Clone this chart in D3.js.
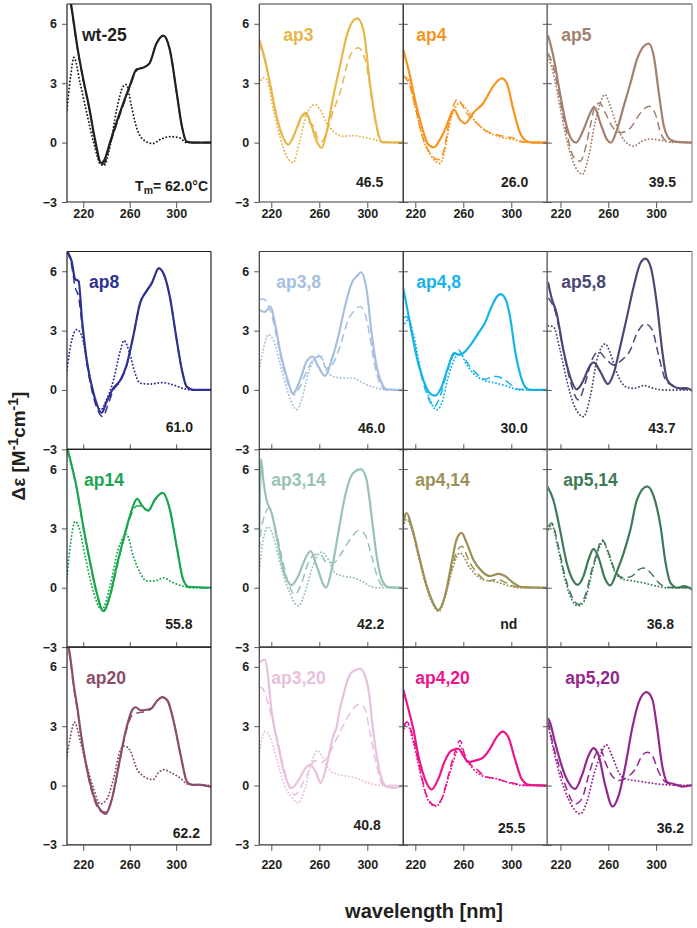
<!DOCTYPE html>
<html><head><meta charset="utf-8">
<script src="https://cdn.jsdelivr.net/npm/d3@7"></script>
<style>
body{margin:0;background:#fff}
svg{display:block}
text{font-family:"Liberation Sans",Arial,Helvetica,sans-serif;font-weight:bold}
</style>
</head><body>
<svg id="chart" width="697" height="928"></svg>
<script>
// ---------------- DATA ----------------
const wavelengthTicks = [220, 260, 300];
const deltaEpsTicks = [-3, 0, 3, 6];
const panelNames = ["wt-25","ap3","ap4","ap5","ap8","ap3,8","ap4,8","ap5,8","ap14","ap3,14","ap4,14","ap5,14","ap20","ap3,20","ap4,20","ap5,20"];
const panelColors = ["#231f20","#e8b54a","#f7941d","#a3806e","#2e3192","#a5bfdf","#16b3ea","#4a4876","#1aa64f","#98c3b0","#9d9055","#3e7a55","#8c4d6c","#e8c0dd","#ec138c","#93278f"];
const tmValues = ["62.0","46.5","26.0","39.5","61.0","46.0","30.0","43.7","55.8","42.2","nd","36.8","62.2","40.8","25.5","36.2"];

// spectra as [wavelength nm, Δε]
const wt25_solid = [[206,8.3],[210,6.8],[215,4.8],[220,3.2],[225,1.8],[230,0.2],[235.5,-1.03],[238,-0.9],[243,0],[251.5,1.5],[260,2.85],[266,3.7],[271.5,3.78],[277,4.0],[283,5.0],[289,5.4],[294.5,4.7],[300.5,2.5],[305,0.8],[309,0.05],[315,0],[330,0]];
const wt25_dashed = [[206,8.2],[210,6.7],[215,4.75],[220,3.15],[225,1.75],[230,0.1],[235.5,-1.1],[238.5,-1.0],[243,-0.1],[251.5,1.4],[260,2.8],[266,3.65],[271.5,3.8],[277,4.0],[283,5.0],[289,5.4],[294.5,4.7],[300.5,2.5],[305,0.8],[309,0.05],[315,0],[330,0]];
const wt25_dotted = [[206,1.67],[209,3.3],[212,4.3],[217.3,3.0],[223,1.5],[229,0],[235,-1.1],[237.8,-1.15],[243,-0.2],[248.8,1.67],[254.5,2.85],[257,2.93],[261.5,1.84],[266,0.74],[271.6,0.15],[280,-0.05],[286,0.15],[294.6,0.3],[303,0.24],[309,0],[330,0]];

const ap3_solid = [[210,5.2],[214.7,4.2],[218.9,3.0],[224.4,1.33],[230,0.24],[234.2,-0.1],[239.7,0.5],[245.3,1.33],[248.9,1.5],[253.6,0.83],[258.3,0],[262,-0.27],[266,0.5],[271.7,2.34],[277.2,3.86],[282.8,5.38],[287,6.05],[291.7,6.27],[296.7,5.7],[302.2,3.0],[307.8,0.83],[312,0.02],[330,0]];
const ap3_dashed = [[210,5.0],[214.7,4.1],[218.9,2.95],[224.4,1.3],[230,0.2],[234.2,-0.1],[239.7,0.45],[245.3,1.25],[248.9,1.45],[252,1.0],[255,0.85],[259,0.2],[262,0.05],[266,0.5],[271,1.5],[277.2,2.5],[285.5,4.37],[292.5,4.79],[299.4,3.86],[305,1.67],[310.6,0.15],[315,0],[330,0]];
const ap3_dotted = [[210,3.0],[213.3,3.27],[216,3.2],[221.7,1.67],[227.2,0.3],[232.8,-0.7],[238.3,-1.0],[243.9,0.15],[249.4,1.42],[256.4,1.92],[260.6,1.67],[266,1.0],[271.7,0.57],[280,0.32],[288.3,0.35],[299.4,0.24],[307.8,0.12],[316,0],[330,0]];

const ap4_solid = [[210,4.7],[215.6,3.36],[219.7,2.18],[225.3,0.83],[230.8,-0.1],[235.5,-0.24],[240.5,0.15],[246,0.83],[250.3,1.5],[252.2,1.67],[257.2,1.16],[261.4,0.97],[268.3,1.5],[276.7,2.0],[285,2.85],[292,3.24],[296.2,3.0],[301.7,1.67],[307.2,0.5],[312.8,0.07],[318,0],[330,0]];
const ap4_dashed = [[210,3.4],[215.6,2.85],[221.1,1.5],[226.7,0.15],[232.2,-0.52],[239.2,-0.86],[243.3,-0.52],[247.5,0.83],[251.7,1.84],[255.3,2.2],[258.5,1.95],[262.8,1.5],[271,1.0],[279.5,0.57],[287.8,0.4],[293.4,0.32],[301.7,0.24],[310,0.02],[330,0]];
const ap4_dotted = [[210,3.36],[214.2,3.2],[219.7,1.84],[226.7,0.15],[233.6,-0.7],[240.6,-1.06],[244.7,-0.35],[248.9,1.0],[254.4,1.87],[257.2,2.0],[262.8,1.67],[271,1.0],[279.5,0.57],[290.6,0.29],[301.7,0.15],[312,0.02],[330,0]];

const ap5_solid = [[209.8,5.38],[214,4.37],[219.6,2.5],[225.2,0.83],[229.4,0.15],[233.1,0],[239.3,0.66],[244.9,1.5],[248.2,1.8],[253.3,1.0],[258.9,0.15],[262.2,0],[267.3,0.66],[272.9,1.84],[278.5,3.0],[284,4.2],[289.7,4.87],[293.9,5.0],[298,4.37],[302.3,2.5],[306.5,0.83],[312,0.15],[320,0.02],[330,0]];
const ap5_dashed = [[209.8,4.5],[214,3.86],[219.6,2.18],[225.2,0.5],[230.8,-0.7],[236.5,-0.94],[240.6,-0.35],[244.9,0.83],[249,1.84],[252.7,2.0],[257.5,1.5],[263,0.83],[270,0.5],[278.5,0.74],[286.9,1.5],[293.9,1.84],[299.5,1.42],[303.7,0.5],[309.3,0.07],[330,0]];
const ap5_dotted = [[209.8,4.37],[214,3.5],[219.6,1.84],[225.2,0.15],[230.8,-1.0],[238.4,-1.6],[243.5,-0.7],[249,1.0],[253.3,2.0],[257,2.43],[261.7,1.84],[267.3,0.83],[272.9,0.15],[281.3,-0.18],[288.3,0.07],[295.3,0.18],[303.7,0.12],[312,0.02],[330,0]];

const ap8_solid = [[206,7.0],[210,6.5],[213,5.6],[216,5.5],[219,3.5],[223,1.5],[229,-0.2],[236,-1.15],[240,-0.6],[246,0.1],[252,0.5],[257,1.2],[263,2.7],[269,4.4],[274.5,5.0],[279,5.4],[285,6.15],[289,5.9],[294.6,4.7],[300,2.7],[305,1.0],[309,0.17],[315,0],[330,0]];
const ap8_dashed = [[206,7.0],[210,6.3],[213,5.2],[216,4.7],[219,3.3],[223,1.4],[229,-0.4],[237,-1.35],[241,-0.8],[246,0.0],[252,0.45],[257,1.15],[263,2.7],[269,4.4],[274.5,5.0],[279,5.4],[285,6.15],[289,5.9],[294.6,4.7],[300,2.7],[305,1.0],[309,0.17],[315,0],[330,0]];
const ap8_dotted = [[206,1.0],[210,2.5],[214.5,3.05],[219,2.7],[223,1.5],[229,-0.2],[235,-1.0],[240,-0.5],[246,0.5],[252,2.0],[255,2.5],[260,1.85],[264.6,0.85],[269,0.34],[277.6,0.3],[287.7,0.37],[297.8,0.25],[306,0.08],[312,0],[330,0]];

const ap38_solid = [[210,4.05],[214.7,3.95],[219.4,4.22],[223,3.38],[227.2,2.0],[232.8,0.68],[238.3,-0.17],[243.9,0.5],[249.4,1.44],[254.4,1.69],[259.2,1.18],[264.7,0.71],[270.3,1.52],[275.8,2.7],[281.4,4.22],[287,5.4],[292.5,5.83],[294.7,5.95],[299.4,5.07],[303.6,2.87],[307.8,1.18],[312,0.34],[316,0.03],[330,0]];
const ap38_dashed = [[210,4.56],[213.3,4.6],[217.5,4.3],[222,3.38],[227.2,1.86],[232.8,0.5],[238.9,-0.25],[243.9,0.17],[249.4,0.93],[255,1.52],[260.6,1.69],[266,1.1],[271.7,1.35],[277.2,2.2],[284.2,3.55],[289.7,4.05],[293.9,4.22],[298,3.88],[302.2,2.7],[306.4,1.18],[312,0.17],[316,0],[330,0]];
const ap38_dotted = [[210,1.0],[213.3,2.03],[217.5,2.79],[221.7,2.53],[227.2,1.35],[234.2,-0.17],[241.1,-1.0],[245.3,-0.5],[250.8,0.84],[256.4,1.6],[260.6,1.77],[266,1.0],[271.7,0.68],[280,0.6],[288.3,0.6],[296.7,0.34],[305,0.14],[313,0.03],[330,0]];

const ap48_solid = [[210,5.15],[215.6,3.38],[221.1,1.69],[226.7,0.5],[232.2,-0.17],[236.4,-0.29],[242,0.17],[247.5,1.18],[252.2,1.86],[257.2,1.77],[261.4,1.94],[267,2.36],[272.5,2.87],[278,3.38],[283.6,4.22],[287.8,4.7],[291.1,4.85],[294.7,4.65],[298.9,3.72],[303,2.03],[307.2,0.84],[311.4,0.17],[315.6,0],[330,0]];
const ap48_dashed = [[210,3.63],[212.8,3.72],[218.3,2.53],[223.9,1.0],[229.4,-0.17],[235.6,-0.84],[240.6,-0.34],[246.1,0.84],[251.7,1.77],[255.8,2.03],[260,1.69],[265.6,1.18],[271,0.84],[278,0.54],[285,0.68],[288,0.68],[294.7,0.5],[301.7,0.17],[307,0.03],[330,0]];
const ap48_dotted = [[210,3.2],[214.2,3.55],[218.3,2.87],[223.9,1.18],[229.4,0],[237.8,-1.0],[242,-0.68],[247.5,0.68],[253,1.6],[257.2,1.86],[262.8,1.27],[268.3,0.84],[276.7,0.5],[285,0.37],[293.3,0.25],[301.7,0.08],[307,0],[330,0]];

const ap58_solid = [[209.8,5.4],[212.6,4.65],[216.8,3.88],[222.4,2.03],[228,0.68],[233.6,0.03],[239.3,0.5],[243.5,1.1],[247.7,1.39],[253.3,0.93],[259.7,0.3],[264.5,0.84],[270,2.2],[275.7,3.72],[281.3,5.24],[286.9,6.42],[291,6.64],[295.3,6.25],[300.9,4.22],[305,2.03],[309.3,0.5],[315,0.17],[320.5,0.08],[325,0.1],[330,-0.03]];
const ap58_dashed = [[209.8,4.65],[215.2,4.05],[222.4,2.03],[228,0.5],[235,-0.5],[240.7,0.34],[246.3,1.52],[251.9,1.94],[257.5,1.6],[264.5,1.27],[271.5,1.52],[278.5,2.03],[284,2.87],[291,3.34],[296.7,3.04],[302.3,1.69],[307.9,0.5],[315,0.17],[322,0.05],[330,0]];
const ap58_dotted = [[209.8,3.24],[214,3.2],[219.6,2.03],[225.2,0.5],[230.8,-0.68],[239.3,-1.35],[244.9,-0.34],[250.5,1.52],[257.5,2.33],[261.7,1.86],[267.3,0.84],[274.3,0.17],[281.3,0.08],[289.7,0.22],[298,0.08],[306,0],[330,0]];

const ap14_solid = [[206,7.1],[214.5,5.0],[220,3.1],[226,1.26],[231.6,-0.25],[237.3,-1.18],[243,-0.4],[248.8,1.1],[254.5,2.44],[260,3.6],[266.6,4.5],[270,4.2],[276,3.9],[281.6,4.45],[288.3,4.8],[294.6,3.95],[300.4,2.1],[306,0.42],[310.6,0.05],[330,0]];
const ap14_dashed = [[206,7.0],[214.5,4.95],[220,3.05],[226,1.2],[231.6,-0.3],[237.3,-1.2],[243,-0.45],[248.8,1.0],[254.5,2.35],[260,3.5],[266.6,4.15],[270,4.1],[276,3.9],[281.6,4.45],[288.3,4.8],[294.6,3.95],[300.4,2.1],[306,0.42],[310.6,0.05],[330,0]];
const ap14_dotted = [[206,0.5],[209,2.2],[213,3.36],[216,3.1],[221.6,1.6],[227.4,0.08],[236,-1.1],[243,0.08],[250,1.93],[257.4,2.7],[263,1.6],[269,0.76],[274.5,0.34],[281.6,0.34],[288.8,0.5],[297.5,0.25],[306,0.08],[312,0],[330,0]];

const ap314_solid = [[210,2.6],[211.5,6.5],[213.3,5.46],[216,4.45],[220.3,3.78],[224.4,2.6],[230,0.92],[237,0.13],[242.5,0.6],[248,1.43],[252.8,1.85],[257.8,1.1],[265.6,0],[270.3,0.92],[275.8,2.77],[281.4,4.62],[288.3,5.8],[294.7,6.0],[299.4,5.46],[303.6,3.6],[307.8,1.6],[312,0.42],[317.5,0.03],[330,0]];
const ap314_dashed = [[210,1.93],[212,3.1],[218.3,4.03],[223,3.1],[228.6,1.6],[234.2,0.25],[239.7,-0.34],[245.3,0.25],[250.8,1.26],[256.4,1.68],[261.1,1.68],[266,1.26],[271.7,1.26],[278.6,1.76],[285.6,2.44],[293,2.9],[298,2.7],[303.6,1.6],[309.2,0.42],[314.7,0.03],[330,0]];
const ap314_dotted = [[210,0.76],[213.3,2.44],[217.5,3.08],[221.7,2.6],[227.2,1.26],[234.2,-0.08],[242.5,-0.92],[248,-0.25],[253.6,0.92],[259.2,1.68],[262,1.8],[267.5,1.43],[273,0.76],[280,0.59],[288.3,0.5],[295.3,0.34],[302.2,0.08],[308,0],[330,0]];

const ap414_solid = [[210,3.53],[212.8,3.78],[217,3.1],[222.5,1.76],[228,0.42],[233.6,-0.59],[239.2,-1.13],[244.7,-0.42],[250.3,1.26],[254.4,2.44],[258.6,2.77],[262.8,2.27],[268.3,1.43],[275.3,0.84],[282.2,0.59],[289.2,0.7],[294.7,0.59],[301.7,0.25],[308.6,0.03],[330,0]];
const ap414_dashed = [[210,3.28],[212.8,3.7],[217,3.05],[222.5,1.7],[228,0.38],[233.6,-0.62],[239.2,-1.13],[244.7,-0.45],[250.3,1.0],[254.4,1.8],[258.6,2.1],[265.6,1.26],[274,0.59],[280,0.34],[287.8,0.42],[296,0.25],[304,0.05],[330,0]];
const ap414_dotted = [[210,3.1],[212.8,3.45],[217,2.95],[222.5,1.6],[228,0.3],[233.6,-0.7],[239.5,-1.2],[244.7,-0.5],[250.3,0.8],[254,1.5],[257.2,1.76],[265.6,1.0],[276,0.42],[287.8,0.29],[299,0.08],[306,0],[330,0]];

const ap514_solid = [[209,5.13],[214,4.45],[219.6,2.94],[225.2,1.26],[230.8,0.34],[234.2,0.15],[239.3,0.59],[243.5,1.43],[247.7,1.97],[251.9,1.51],[257.5,0.42],[261.7,0.12],[267.3,0.84],[272.9,1.76],[278.5,2.94],[284,4.45],[292.5,5.13],[298,4.62],[303.7,3.1],[307.9,1.26],[312,0.25],[317.7,0],[323.3,0.08],[330,-0.08]];
const ap514_dashed = [[209.8,3.1],[212.6,3.28],[218.2,2.1],[223.8,0.59],[229.4,-0.42],[235,-0.84],[240.6,-0.42],[246.3,0.92],[250.5,1.76],[254.6,2.44],[260.3,1.76],[265.9,0.84],[272.9,0.5],[279.9,0.59],[285.5,0.92],[289.7,1.0],[295.3,0.76],[302.3,0.25],[309,0.03],[330,0]];
const ap514_dotted = [[209.8,2.94],[212.6,3.19],[218.2,1.93],[223.8,0.42],[229.4,-0.59],[235,-0.92],[240.6,-0.59],[246.3,0.76],[251.9,1.93],[255.5,2.35],[260.3,1.68],[265.9,0.76],[272.9,0.42],[281.3,0.34],[291,0.22],[300.9,0.08],[309,0],[330,0]];

const ap20_solid = [[206,7.5],[209,6.4],[212,5.0],[215,3.9],[218,2.6],[222,1.2],[226,0.1],[230,-0.7],[235,-1.25],[239.5,-1.43],[242.5,-1.1],[245,-0.6],[250.5,1.0],[256.3,2.7],[262,3.8],[265,3.96],[269.4,3.8],[278,3.88],[283.8,4.3],[288,4.47],[292.5,4.3],[298,3.2],[304,1.5],[309.5,0.17],[314,0.03],[320,0.05],[325,0.0],[330,-0.05]];
const ap20_dashed = [[206,7.4],[209,6.3],[212,4.9],[215,3.8],[218,2.55],[222,1.15],[226,0.0],[230,-0.8],[235,-1.3],[239.5,-1.35],[242.5,-1.05],[245,-0.6],[250.5,0.95],[256.3,2.6],[262,3.55],[265,3.65],[269.4,3.7],[278,3.85],[283.8,4.3],[288,4.47],[292.5,4.3],[298,3.2],[304,1.5],[309.5,0.17],[314,0.03],[320,0.05],[325,0.0],[330,-0.05]];
const ap20_dotted = [[206,1.5],[209,2.5],[212.5,3.2],[217.6,2.2],[223,1.0],[229,-0.17],[234.6,-0.93],[240.4,-0.67],[246,0.34],[251.8,1.77],[255.3,2.0],[260.4,1.77],[266.2,0.84],[272,0.47],[280,0.3],[285,0.67],[289.8,0.8],[295,0.67],[303.7,0.37],[309.5,0.08],[315,0.05],[330,0]];

const ap320_solid = [[210,6.24],[214.7,6.37],[217.5,5.4],[220,3.9],[221.7,3.2],[225.8,2.0],[231.4,0.5],[237,-0.12],[242.5,0.25],[248,0.84],[252.2,1.05],[257.2,0.67],[261.1,0.13],[266,1.0],[271.7,2.53],[274.4,2.95],[277.2,3.88],[280,4.55],[285,5.56],[291,5.87],[294,5.9],[297.5,5.65],[301.7,4.55],[304.4,3.03],[307.8,1.52],[312,0.34],[316,-0.05],[321.6,-0.12],[330,0]];
const ap320_dashed = [[210,4.98],[212.8,4.9],[217,4.22],[221,3.3],[224.4,2.5],[230,1.0],[235.6,-0.17],[239.7,-0.47],[245.3,0],[250.8,0.67],[256.4,1.26],[262,1.18],[267.5,1.52],[274.4,2.36],[281.4,3.2],[288.3,3.88],[293.9,4.13],[298,3.88],[302.2,2.7],[307.8,1.0],[312.5,0.08],[318,0],[330,0]];
const ap320_dotted = [[210,1.35],[212,2.36],[214.7,2.73],[219,2.45],[224.4,1.35],[230,0.17],[237,-0.59],[242.5,-0.88],[248,-0.17],[253.6,1.18],[258.3,1.77],[263.3,1.35],[268.9,0.76],[274.4,0.59],[282.8,0.47],[291.1,0.37],[299.4,0.17],[307.8,0.03],[316,0],[330,0]];

const ap420_solid = [[210,4.85],[214.2,3.88],[218.3,2.87],[222.5,1.52],[228,0.34],[233.6,-0.2],[239.2,0.34],[244.7,1.26],[250.3,1.77],[255.8,1.86],[260,1.52],[264.2,1.18],[269.7,1.26],[276.7,1.43],[282.2,1.86],[287.8,2.45],[292.8,2.73],[297.5,2.45],[303,1.35],[308.6,0.34],[315,0.03],[330,0]];
const ap420_dashed = [[210,3.03],[213.3,3.2],[218.3,2.36],[223.9,0.84],[229.4,-0.5],[236.4,-1.0],[242,-0.67],[247.5,0.5],[253,1.69],[257.2,2.28],[261.4,1.52],[265.6,1.1],[271,0.84],[278,0.47],[287.8,0.34],[296.1,0.2],[304,0.08],[315,0],[330,0]];
const ap420_dotted = [[210,2.7],[212.8,3.2],[218.3,2.2],[225.3,0.34],[230.8,-0.76],[237.2,-1.05],[243.3,-0.5],[248.9,0.67],[254.4,1.69],[257.2,2.0],[261.4,1.43],[268.3,0.84],[276.7,0.47],[287.8,0.34],[298.9,0.13],[310,0],[330,0]];

const ap520_solid = [[209.8,3.37],[211.2,3.2],[215.4,2.2],[221,1.0],[226.6,0.17],[232.2,-0.17],[237.9,0.5],[243.5,1.52],[247.7,1.89],[251.9,1.52],[257.5,0],[263.6,-1.06],[268.7,-0.5],[274.3,1.0],[279.9,2.87],[285.5,4.22],[291.9,4.72],[296.7,4.38],[300.9,2.87],[305.1,1.0],[309.3,0.17],[314.9,0.08],[321.9,-0.05],[330,0.03]];
const ap520_dashed = [[209.8,3.2],[214,2.02],[219.6,0.84],[225.2,-0.17],[232.2,-0.93],[237.9,-0.67],[243.5,0.5],[249,1.52],[253.3,1.86],[257.5,1.18],[263,0.5],[268.7,0.25],[275.7,0.42],[282.7,0.84],[288.3,1.52],[292.5,1.69],[296.7,1.52],[302.3,0.67],[307.9,0.17],[315,0.03],[330,0]];
const ap520_dotted = [[209.8,3.03],[214,1.86],[219.6,0.5],[226.6,-0.67],[236.5,-1.43],[242,-0.84],[247.7,0.5],[253.3,1.52],[258.3,2.06],[263,1.52],[268.7,0.67],[274.3,0.34],[282.7,0.25],[291,0.17],[300.9,0.08],[312,0.03],[330,0]];

const spectra = [
  [wt25_solid, wt25_dashed, wt25_dotted],
  [ap3_solid, ap3_dashed, ap3_dotted],
  [ap4_solid, ap4_dashed, ap4_dotted],
  [ap5_solid, ap5_dashed, ap5_dotted],
  [ap8_solid, ap8_dashed, ap8_dotted],
  [ap38_solid, ap38_dashed, ap38_dotted],
  [ap48_solid, ap48_dashed, ap48_dotted],
  [ap58_solid, ap58_dashed, ap58_dotted],
  [ap14_solid, ap14_dashed, ap14_dotted],
  [ap314_solid, ap314_dashed, ap314_dotted],
  [ap414_solid, ap414_dashed, ap414_dotted],
  [ap514_solid, ap514_dashed, ap514_dotted],
  [ap20_solid, ap20_dashed, ap20_dotted],
  [ap320_solid, ap320_dashed, ap320_dotted],
  [ap420_solid, ap420_dashed, ap420_dotted],
  [ap520_solid, ap520_dashed, ap520_dotted]
];

// ---------------- LAYOUT ----------------
const colX = [[67,211],[259.3,403.3],[403.3,547.3],[547.3,692]];
const colDomain = [[206,330],[210,330],[210,330],[209,330]];
const rowY = [[4,202],[251.5,449.3],[449.3,647.1],[647.1,844.9]];
const labelDx = [15,24,13,14, 22,17,13,14, 17,12,12,16, 19,12,12,18];
const tmPos = [[-3,11],[-20,15],[-19,15],[-16,15],
               [-18,17],[-18,16],[-19.5,16],[-16.5,16],
               [-18.5,18],[-19,18],[-30,18],[-18,18],
               [-11,7],[-22.5,15],[-22,12],[-8,12]];
const styles = [
  {w:2.2, dash:null, cap:"round"},
  {w:1.5, dash:"8,4.5", cap:"butt"},
  {w:1.9, dash:"0.1,3.4", cap:"round"}
];
const ink = "#231f20";

const svg = d3.select("#chart");
const defs = svg.append("defs");

panelNames.forEach((name, i) => {
  const r = Math.floor(i / 4), c = i % 4;
  const [x0, x1] = colX[c], [y0, y1] = rowY[r];
  const x = d3.scaleLinear().domain(colDomain[c]).range([x0, x1]);
  const y = d3.scaleLinear().domain([-3, 7]).range([y1, y0]);
  const g = svg.append("g");

  defs.append("clipPath").attr("id", "clip" + i)
    .append("rect").attr("x", x0).attr("y", y0).attr("width", x1 - x0).attr("height", y1 - y0);

  const line = d3.line().x(d => x(d[0])).y(d => y(d[1])).curve(d3.curveMonotoneX);
  const cg = g.append("g").attr("clip-path", `url(#clip${i})`);
  [2, 1, 0].forEach(k => {
    cg.append("path").datum(spectra[i][k])
      .attr("d", line).attr("fill", "none")
      .attr("stroke", panelColors[i])
      .attr("stroke-width", styles[k].w)
      .attr("stroke-dasharray", styles[k].dash)
      .attr("stroke-linecap", styles[k].cap)
      .attr("stroke-linejoin", "round");
  });

  // borders
  const bc = c === 0 ? ink : "#3a3a3a";
  g.append("line").attr("x1", x0).attr("x2", x1).attr("y1", y0).attr("y2", y0).attr("stroke", bc).attr("stroke-width", 1.2);
  g.append("line").attr("x1", x0).attr("x2", x1).attr("y1", y1).attr("y2", y1).attr("stroke", bc).attr("stroke-width", 1.2);
  g.append("line").attr("x1", x0).attr("x2", x0).attr("y1", y0).attr("y2", y1)
    .attr("stroke", c === 3 ? "#7a7a7a" : bc).attr("stroke-width", c === 3 ? 1.5 : 1.2);
  g.append("line").attr("x1", x1).attr("x2", x1).attr("y1", y0).attr("y2", y1)
    .attr("stroke", c === 3 ? "#8a8a8a" : bc).attr("stroke-width", 1.2);

  // y axis
  if (c <= 1) {
    const ax = g.append("g").attr("transform", `translate(${x0},0)`)
      .call(d3.axisLeft(y).tickValues(deltaEpsTicks).tickSize(5).tickPadding(5).tickFormat(d3.format("d")));
    ax.select(".domain").remove();
    ax.selectAll("line").attr("stroke", "#555");
    ax.selectAll("text").attr("fill", ink).style("font-size", "12.5px");
  } else {
    const ax = g.append("g").attr("transform", `translate(${x0 + 4.5},0)`)
      .call(d3.axisLeft(y).tickValues(deltaEpsTicks).tickSize(9).tickFormat(""));
    ax.select(".domain").remove();
    ax.selectAll("line").attr("stroke", "#555");
  }

  // x axis
  if (r === 0 || r === 3) {
    const ax = g.append("g").attr("transform", `translate(0,${y1})`)
      .call(d3.axisBottom(x).tickValues(wavelengthTicks).tickSize(6).tickPadding(r === 0 ? 1 : 9));
    ax.select(".domain").remove();
    ax.selectAll("line").attr("stroke", "#555");
    ax.selectAll("text").attr("fill", ink).style("font-size", "12.5px");
  } else {
    const ax = g.append("g").attr("transform", `translate(0,${y1})`)
      .call(d3.axisBottom(x).tickValues(wavelengthTicks).tickSize(-5).tickFormat(""));
    ax.select(".domain").remove();
    ax.selectAll("line").attr("stroke", "#555");
  }

  // panel label
  g.append("text").attr("x", x0 + labelDx[i]).attr("y", y0 + 36.5)
    .attr("fill", panelColors[i]).style("font-size", "17.5px").text(name);

  // Tm
  const t = g.append("text").attr("x", x1 + tmPos[i][0]).attr("y", y1 - tmPos[i][1])
    .attr("text-anchor", "end").attr("fill", ink).style("font-size", "14px");
  if (i === 0) {
    t.append("tspan").text("T");
    t.append("tspan").attr("dy", 3).style("font-size", "10.5px").text("m");
    t.append("tspan").attr("dy", -3).text("= " + tmValues[i] + "°C");
  } else {
    t.text(tmValues[i]);
  }
});

// axis titles
const yt = svg.append("text").attr("transform", "translate(25,446) rotate(-90)")
  .attr("text-anchor", "middle").attr("fill", ink).style("font-size", "19px");
yt.append("tspan").text("Δε [M");
yt.append("tspan").attr("dy", -7).style("font-size", "14px").text("-1");
yt.append("tspan").attr("dy", 7).text("cm");
yt.append("tspan").attr("dy", -7).style("font-size", "14px").text("-1");
yt.append("tspan").attr("dy", 7).text("]");

svg.append("text").attr("x", 424).attr("y", 918).attr("text-anchor", "middle")
  .attr("fill", ink).style("font-size", "20px").text("wavelength [nm]");
</script>
</body></html>
